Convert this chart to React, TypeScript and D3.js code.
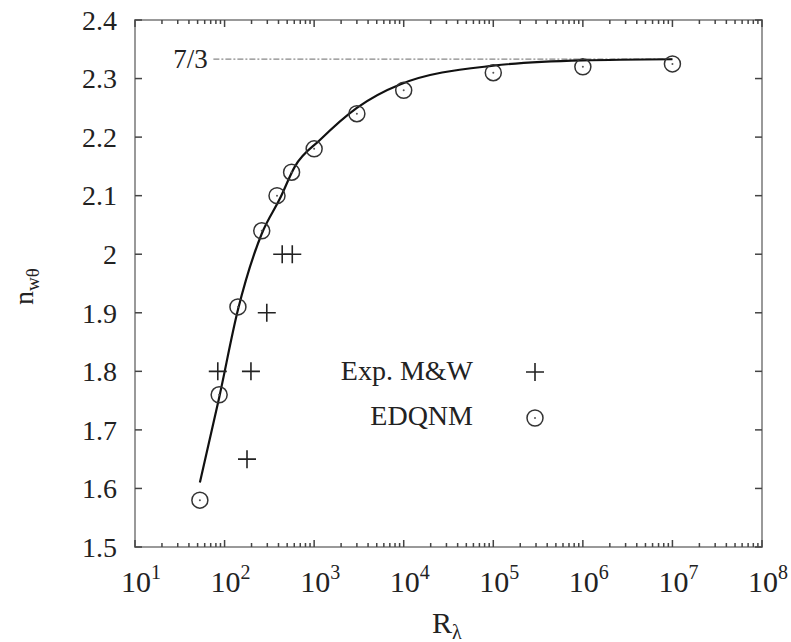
import { useEffect, useRef } from 'react';
import * as d3 from 'd3';

// EDQNM points
const edqnmR = [53, 87, 141, 260, 385, 560, 1000, 3000, 1e4, 1e5, 1e6, 1e7];
const edqnmN = [1.58, 1.76, 1.91, 2.04, 2.1, 2.14, 2.18, 2.24, 2.28, 2.31, 2.32, 2.325];

// Exp. M&W points
const expR = [440, 570, 296, 84, 197, 178];
const expN = [2.0, 2.0, 1.9, 1.8, 1.8, 1.65];

// fitted curve
const curveR = [53, 87, 141, 260, 415, 611, 1160, 3000, 9100, 1e5, 1e6, 1e7];
const curveN = [1.61, 1.755, 1.905, 2.035, 2.095, 2.15, 2.195, 2.25, 2.29, 2.322, 2.331, 2.333];

const yTicks = [1.5, 1.6, 1.7, 1.8, 1.9, 2, 2.1, 2.2, 2.3, 2.4];
const xExponents = [1, 2, 3, 4, 5, 6, 7, 8];
const asymptote = 7 / 3;

export default function App() {
  const svgRef = useRef<SVGSVGElement>(null);
  const width = 791;
  const height = 642;

  useEffect(() => {
    if (!svgRef.current) return;
    const svg = d3.select(svgRef.current);
    svg.selectAll('*').remove();

    const margin = { top: 20, right: 29, bottom: 95, left: 135 };
    const innerWidth = width - margin.left - margin.right;
    const innerHeight = height - margin.top - margin.bottom;
    const font = "'Liberation Serif', 'Times New Roman', Tinos, 'DejaVu Serif', serif";
    const ink = '#222';

    const g = svg.append('g').attr('transform', `translate(${margin.left},${margin.top})`);

    const x = d3.scaleLog().domain([10, 1e8]).range([0, innerWidth]);
    const y = d3.scaleLinear().domain([1.5, 2.4]).range([innerHeight, 0]);

    // frame
    g.append('rect')
      .attr('width', innerWidth)
      .attr('height', innerHeight)
      .attr('fill', 'none')
      .attr('stroke', '#999')
      .attr('stroke-width', 2);

    // x ticks (bottom + top), major and minor
    const minor: number[] = [];
    for (let e = 1; e < 8; e++) for (let m = 2; m <= 9; m++) minor.push(m * Math.pow(10, e));
    const majors = xExponents.map(e => Math.pow(10, e));
    [0, innerHeight].forEach(yy => {
      const dir = yy === 0 ? 1 : -1;
      g.selectAll(null).data(minor).enter().append('line')
        .attr('x1', d => x(d)).attr('x2', d => x(d))
        .attr('y1', yy).attr('y2', yy + dir * 4)
        .attr('stroke', '#444').attr('stroke-width', 1.5);
      g.selectAll(null).data(majors).enter().append('line')
        .attr('x1', d => x(d)).attr('x2', d => x(d))
        .attr('y1', yy).attr('y2', yy + dir * 7)
        .attr('stroke', '#444').attr('stroke-width', 1.5);
    });

    // y ticks (left + right)
    [0, innerWidth].forEach(xx => {
      const dir = xx === 0 ? 1 : -1;
      g.selectAll(null).data(yTicks).enter().append('line')
        .attr('x1', xx).attr('x2', xx + dir * 7)
        .attr('y1', d => y(d)).attr('y2', d => y(d))
        .attr('stroke', '#444').attr('stroke-width', 1.5);
    });

    // y tick labels
    g.selectAll(null).data(yTicks).enter().append('text')
      .attr('x', -18)
      .attr('y', d => y(d))
      .attr('dy', '0.35em')
      .attr('text-anchor', 'end')
      .style('font-family', font)
      .style('font-size', '28px')
      .style('fill', ink)
      .text(d => (d === 2 ? '2' : d3.format('.1f')(d)));

    // x tick labels 10^n
    const xl = g.selectAll(null).data(xExponents).enter().append('text')
      .attr('x', d => x(Math.pow(10, d)) + 6)
      .attr('y', innerHeight + 45)
      .attr('text-anchor', 'middle')
      .style('font-family', font)
      .style('font-size', '30px')
      .style('fill', ink);
    xl.append('tspan').text('10');
    xl.append('tspan')
      .attr('dy', -13)
      .style('font-size', '20px')
      .text(d => String(d));

    // 7/3 asymptote
    g.append('line')
      .attr('x1', x(75)).attr('x2', x(1e7))
      .attr('y1', y(asymptote)).attr('y2', y(asymptote))
      .attr('stroke', '#888')
      .attr('stroke-width', 1.2)
      .attr('stroke-dasharray', '6,2,2,2');
    g.append('text')
      .attr('x', x(72) - 4)
      .attr('y', y(asymptote))
      .attr('dy', '0.35em')
      .attr('text-anchor', 'end')
      .style('font-family', font)
      .style('font-size', '27px')
      .style('fill', ink)
      .text('7/3');

    // fitted curve
    const pts = curveR.map((r, i) => [x(r), y(curveN[i])] as [number, number]);
    g.append('path')
      .datum(pts)
      .attr('fill', 'none')
      .attr('stroke', '#111')
      .attr('stroke-width', 2.2)
      .attr('d', d3.line().curve(d3.curveMonotoneX));

    // EDQNM circles
    const circ = (sel: any, cx: number, cy: number) => {
      sel.append('circle')
        .attr('cx', cx).attr('cy', cy).attr('r', 8)
        .attr('fill', 'none').attr('stroke', '#333').attr('stroke-width', 1.5);
      sel.append('circle')
        .attr('cx', cx).attr('cy', cy).attr('r', 1)
        .attr('fill', '#555');
    };
    edqnmR.forEach((r, i) => circ(g, x(r), y(edqnmN[i])));

    // Exp crosses
    const cross = (sel: any, cx: number, cy: number) => {
      sel.append('path')
        .attr('d', `M${cx - 9},${cy}H${cx + 9}M${cx},${cy - 9}V${cy + 9}`)
        .attr('stroke', '#222').attr('stroke-width', 1.6);
    };
    expR.forEach((r, i) => cross(g, x(r), y(expN[i])));

    // legend
    const legend = svg.append('g');
    legend.append('text')
      .attr('x', 473).attr('y', 380)
      .attr('text-anchor', 'end')
      .style('font-family', font)
      .style('font-size', '28px')
      .style('fill', ink)
      .text('Exp. M&W');
    cross(legend, 535, 372);
    legend.append('text')
      .attr('x', 473).attr('y', 425)
      .attr('text-anchor', 'end')
      .style('font-family', font)
      .style('font-size', '28px')
      .style('fill', ink)
      .text('EDQNM');
    circ(legend, 535, 418);

    // axis titles
    const xt = svg.append('text')
      .attr('x', 432).attr('y', 633)
      .style('font-family', font)
      .style('font-size', '30px')
      .style('fill', ink);
    xt.append('tspan').text('R');
    xt.append('tspan').attr('dy', 6).style('font-size', '20px').text('λ');

    const yt = svg.append('text')
      .attr('transform', 'translate(33,305) rotate(-90)')
      .style('font-family', font)
      .style('font-size', '28px')
      .style('fill', ink);
    yt.append('tspan').text('n');
    yt.append('tspan').attr('dy', 6).style('font-size', '19px').text('wθ');
  }, []);

  return (
    <svg
      ref={svgRef}
      width={width}
      height={height}
      style={{ position: 'absolute', left: 0, top: 0, background: '#fff' }}
    />
  );
}
